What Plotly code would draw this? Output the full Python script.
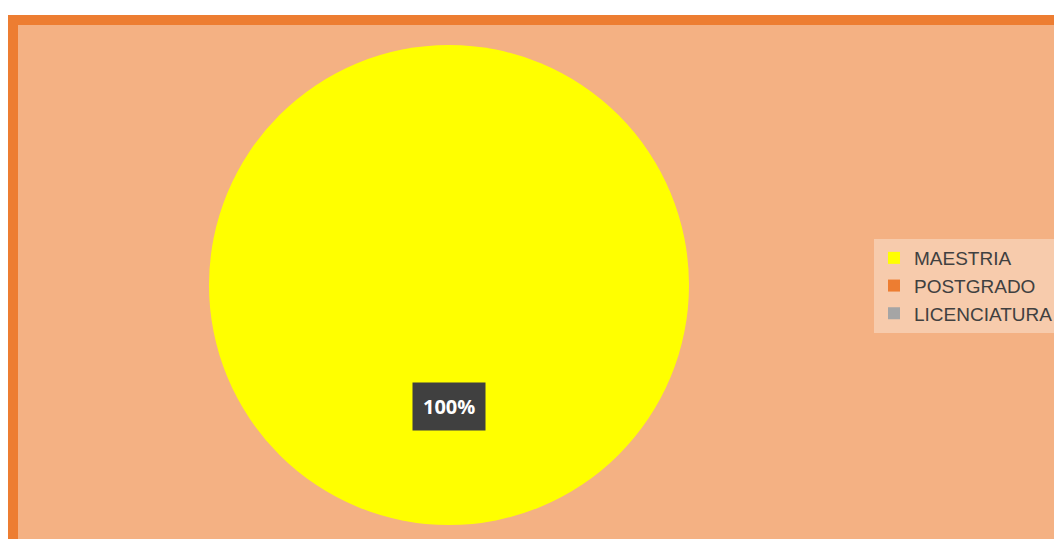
import plotly.graph_objects as go

categories = ["MAESTRIA", "POSTGRADO", "LICENCIATURA"]
values = [100, 0, 0]
colors = ["#FFFF00", "#ED7D31", "#A5A5A5"]
label_text = "100%"

W, H = 1062, 539
OFF = 8  # page body margin offset

fig = go.Figure()
fig.add_trace(go.Pie(
    labels=categories,
    values=values,
    marker=dict(colors=colors, line=dict(width=0)),
    textinfo="none",
    sort=False,
    direction="clockwise",
    domain=dict(x=[(209 - OFF) / W, (689 - OFF) / W],
                y=[(H - (525 - OFF)) / H, (H - (45 - OFF)) / H]),
    hoverinfo="label+percent",
))

fig.add_annotation(
    x=(449 - OFF) / W, y=1 - (406 - OFF) / H, xref="paper", yref="paper",
    xanchor="center", yanchor="middle",
    text="<b>" + label_text + "</b>", showarrow=False,
    font=dict(family="Open Sans, Liberation Sans, sans-serif", size=20, color="#FFFFFF"),
    bgcolor="#404040", borderpad=10,
)

fig.update_layout(
    width=W, height=H,
    margin=dict(l=0, r=0, t=0, b=0),
    paper_bgcolor="#FFFFFF",
    shapes=[dict(
        type="rect", xref="paper", yref="paper", layer="below",
        x0=(13 - OFF) / W, x1=1.05, y0=-0.05, y1=1 - (20 - OFF) / H,
        line=dict(color="#ED7D31", width=10),
        fillcolor="#F4B183",
    )],
    legend=dict(
        x=(874 - OFF) / W, y=1 - (286 - OFF) / H, xanchor="left", yanchor="middle",
        bgcolor="rgba(247,203,172,1)",
        font=dict(family="Liberation Sans, Arial, sans-serif", size=19, color="#404040"),
        itemsizing="constant", tracegroupgap=0,
    ),
    showlegend=True,
)

fig.write_html("out.html")
